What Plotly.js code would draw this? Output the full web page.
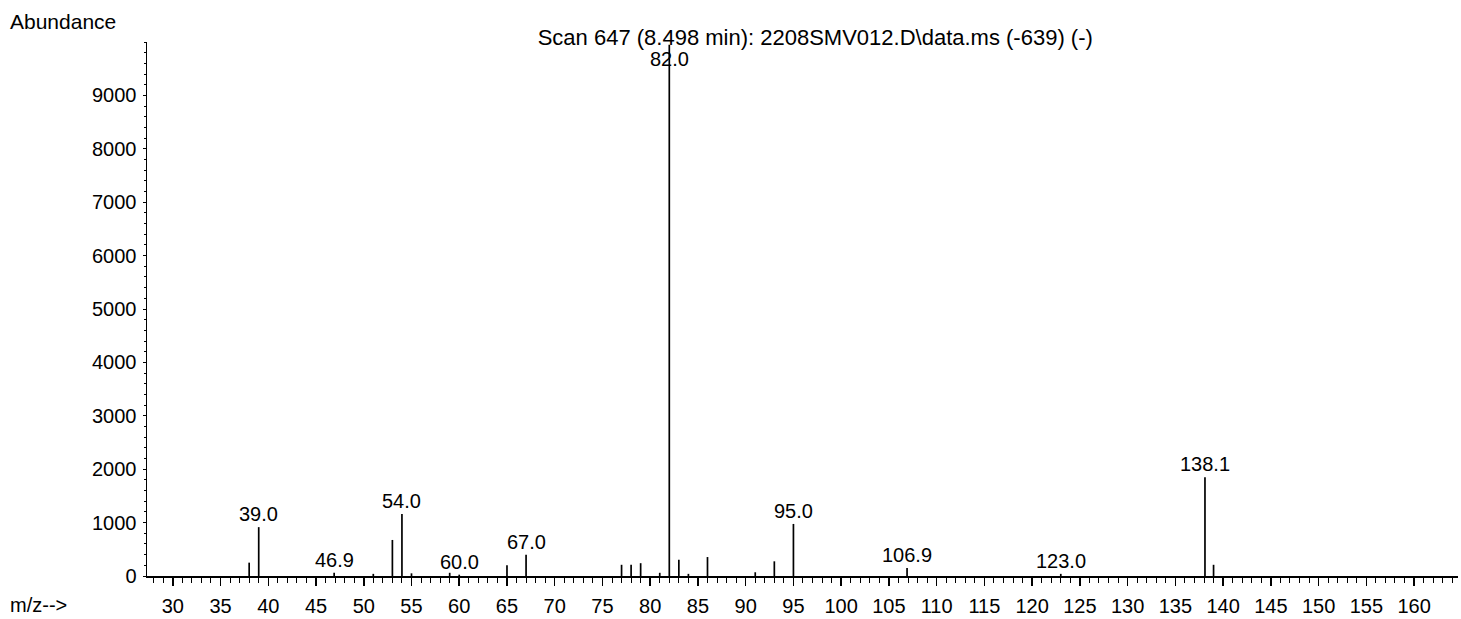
<!DOCTYPE html>
<html>
<head>
<meta charset="utf-8">
<script src="https://cdn.plot.ly/plotly-3.0.1.min.js"></script>
<style>html,body{margin:0;padding:0;background:#fff;}#chart{width:1461px;height:619px;}</style>
</head>
<body>
<div id="chart"></div>
<script>
// m/z values of the spectrum lines
var mz = [38, 39, 46.9, 51, 53, 54, 55, 59, 60, 65, 67, 77, 78, 79, 81, 82, 83, 84, 86, 91, 93, 95, 106.9, 123, 138.1, 139];
// abundance of each line
var abundance = [250, 915, 60, 40, 675, 1160, 50, 60, 25, 200, 400, 210, 210, 240, 60, 9950, 305, 40, 355, 70, 275, 975, 150, 40, 1850, 210];
// labelled peaks
var labelMz = [39.0, 46.9, 54.0, 60.0, 67.0, 82.0, 95.0, 106.9, 123.0, 138.1];
var labelText = ["39.0", "46.9", "54.0", "60.0", "67.0", "82.0", "95.0", "106.9", "123.0", "138.1"];
// y tick values
var yTicks = [0, 1000, 2000, 3000, 4000, 5000, 6000, 7000, 8000, 9000];
var titleText = "Scan 647 (8.498 min): 2208SMV012.D\\data.ms (-639) (-)";

var font = "Liberation Sans, Arial, sans-serif";

// build stick segments from the data
var sx = [], sy = [];
for (var i = 0; i < mz.length; i++) {
  sx.push(mz[i], mz[i], null);
  sy.push(0, abundance[i], null);
}

var annotations = [];
for (var j = 0; j < labelMz.length; j++) {
  var k = mz.indexOf(labelMz[j]);
  var h = k >= 0 ? abundance[k] : 0;
  if (h > 9500) {
    annotations.push({x: labelMz[j], y: 10000, xref: 'x', yref: 'y', text: labelText[j],
      showarrow: false, xanchor: 'center', yanchor: 'top', yshift: -4,
      font: {family: font, size: 20, color: '#000'}});
  } else {
    annotations.push({x: labelMz[j], y: h, xref: 'x', yref: 'y', text: labelText[j],
      showarrow: false, xanchor: 'center', yanchor: 'bottom', yshift: 0,
      font: {family: font, size: 20, color: '#000'}});
  }
}
annotations.push({x: -0.106, y: 1.039, xref: 'paper', yref: 'paper', text: 'Abundance',
  showarrow: false, xanchor: 'left', yanchor: 'middle', font: {family: font, size: 21, color: '#000'}});
annotations.push({x: -0.106, y: -0.054, xref: 'paper', yref: 'paper', text: 'm/z-->',
  showarrow: false, xanchor: 'left', yanchor: 'middle', font: {family: font, size: 20, color: '#000'}});

var trace = {
  x: sx, y: sy, type: 'scatter', mode: 'lines',
  line: {color: '#000', width: 1.7},
  hoverinfo: 'skip', showlegend: false
};

var layout = {
  width: 1461, height: 619,
  margin: {l: 147, r: 3, t: 42, b: 43},
  paper_bgcolor: '#fff', plot_bgcolor: '#fff',
  font: {family: font, size: 20, color: '#000'},
  title: {text: titleText, font: {family: font, size: 22, color: '#000'},
    xref: 'container', yref: 'container', x: 0.558, y: 0.94, xanchor: 'center', yanchor: 'middle'},
  xaxis: {
    range: [27.3, 164.6], showgrid: false, zeroline: false,
    showline: true, linecolor: '#000', linewidth: 1.5,
    ticks: 'outside', ticklen: 8, tickwidth: 1.5, tickcolor: '#000',
    tick0: 30, dtick: 5, ticklabelstandoff: 3,
    minor: {dtick: 1, ticks: 'outside', ticklen: 5, tickwidth: 1, tickcolor: '#000', showgrid: false},
    tickfont: {family: font, size: 20, color: '#000'}
  },
  yaxis: {
    range: [0, 10000], showgrid: false, zeroline: false,
    showline: true, linecolor: '#000', linewidth: 1.5,
    ticks: 'outside', ticklen: 3, tickwidth: 1, tickcolor: '#000',
    tickmode: 'array', tickvals: yTicks, ticktext: yTicks.map(String), ticklabelstandoff: 2,
    minor: {dtick: 200, tick0: 0, ticks: 'outside', ticklen: 2, tickwidth: 1, tickcolor: '#000', showgrid: false},
    tickfont: {family: font, size: 20, color: '#000'}
  },
  annotations: annotations
};

Plotly.newPlot('chart', [trace], layout, {displayModeBar: false, staticPlot: true});
</script>
</body>
</html>
